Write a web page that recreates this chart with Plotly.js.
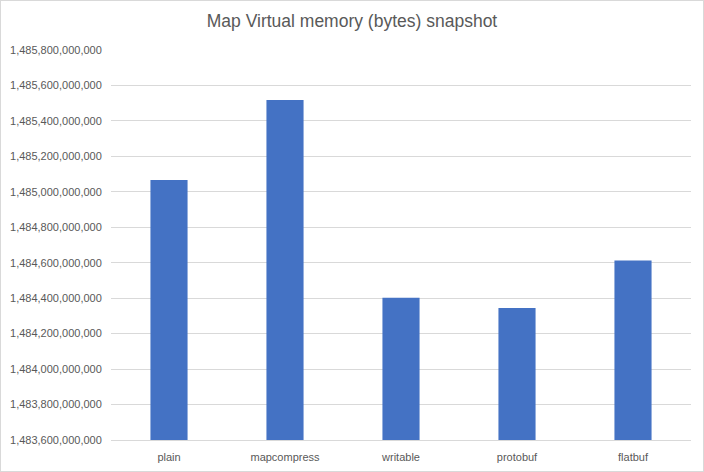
<!DOCTYPE html>
<html>
<head>
<meta charset="utf-8">
<script src="https://cdn.plot.ly/plotly-3.0.1.min.js"></script>
<style>
  html, body { margin: 0; padding: 0; background: #fff; }
  #chart { width: 702px; height: 470px; border: 1px solid #d9d9d9; }
</style>
</head>
<body>
<div id="chart"></div>
<script>
const categories = ["plain", "mapcompress", "writable", "protobuf", "flatbuf"];
const values = [1485066600000, 1485517900000, 1484402000000, 1484345000000, 1484613000000];
const yMin = 1483600000000;
const yMax = 1485800000000;
const yStep = 200000000;
const chartTitle = "Map Virtual memory (bytes) snapshot";

const textColor = "#595959";
const fontFamily = "'Liberation Sans', Arial, sans-serif";

Plotly.newPlot("chart", [{
  type: "bar",
  x: categories,
  y: values,
  marker: { color: "#4472c4" },
  hoverinfo: "x+y"
}], {
  width: 702,
  height: 470,
  margin: { l: 110, r: 12, t: 49, b: 31 },
  paper_bgcolor: "#ffffff",
  plot_bgcolor: "#ffffff",
  bargap: 0.68,
  showlegend: false,
  title: {
    text: chartTitle,
    font: { family: fontFamily, size: 17.5, color: textColor },
    x: 0.5, xanchor: "center",
    y: 0.958, yref: "container", yanchor: "middle"
  },
  xaxis: {
    type: "category",
    showgrid: false,
    showline: true,
    linecolor: "#d9d9d9",
    linewidth: 1,
    ticks: "outside",
    ticklen: 7,
    tickcolor: "rgba(0,0,0,0)",
    tickfont: { family: fontFamily, size: 11, color: textColor }
  },
  yaxis: {
    range: [yMin, yMax],
    dtick: yStep,
    tick0: yMin,
    tickformat: ",.0f",
    showgrid: true,
    gridcolor: "#d9d9d9",
    gridwidth: 1,
    zeroline: false,
    showline: false,
    ticks: "outside",
    ticklen: 6,
    tickcolor: "rgba(0,0,0,0)",
    tickfont: { family: fontFamily, size: 11, color: textColor }
  }
}, { displayModeBar: false, staticPlot: true });
</script>
</body>
</html>
